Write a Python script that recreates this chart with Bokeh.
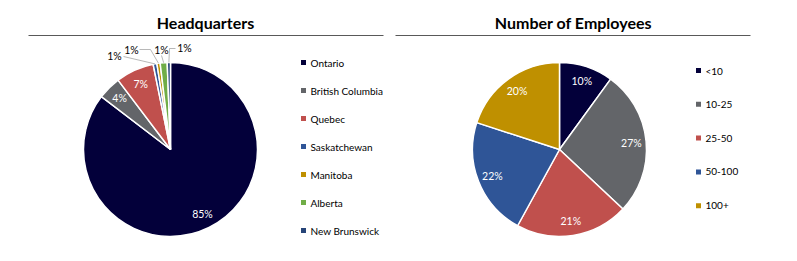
import math
from bokeh.plotting import figure
from bokeh.models import Range1d, ColumnDataSource
from bokeh.core.properties import value
from bokeh.embed import file_html
from bokeh.resources import INLINE

# ---- data ----
hq_title = "Headquarters"
hq_regions = ["Ontario", "British Columbia", "Quebec", "Saskatchewan", "Manitoba", "Alberta", "New Brunswick"]
hq_share = [85.4, 4.3, 7.1, 0.7, 0.6, 1.3, 0.6]
hq_colors = ["#03003A", "#636569", "#C0504D", "#2F5597", "#BF9000", "#70AD47", "#264478"]

emp_title = "Number of Employees"
emp_bands = ["<10", "10-25", "25-50", "50-100", "100+"]
emp_share = [10, 27, 21, 22, 20]
emp_colors = ["#03003A", "#636569", "#C0504D", "#2F5597", "#BF9000"]

W, H = 797, 261
FONT = "Lato"

p = figure(width=W, height=H, x_range=Range1d(0, W), y_range=Range1d(0, H),
           output_backend="svg", toolbar_location=None, min_border=0)
p.axis.visible = False
p.grid.visible = False
p.outline_line_color = None
p.background_fill_color = "white"
p.border_fill_color = "white"


def Y(y):
    return H - y


def pie(cx, cy, r, shares, colors):
    tot = float(sum(shares))
    starts, ends, mids = [], [], []
    c = 0.0
    for s in shares:
        a0 = math.pi / 2 - 2 * math.pi * (c + s) / tot
        a1 = math.pi / 2 - 2 * math.pi * c / tot
        starts.append(a0)
        ends.append(a1)
        mids.append((a0 + a1) / 2)
        c += s
    src = ColumnDataSource(dict(x=[cx] * len(shares), y=[Y(cy)] * len(shares),
                                s=starts, e=ends, color=colors))
    p.wedge(x="x", y="y", radius=r, start_angle="s", end_angle="e", source=src,
            fill_color="color", line_color="white", line_width=1.5)
    return mids, tot


def title(text, cx, x0, x1):
    p.text(x=[cx], y=[Y(22)], text=[text], text_font=value(FONT), text_font_style="bold",
           text_font_size="16px", text_align="center", text_baseline="middle", text_color="#000000")
    p.segment(x0=[x0], y0=[Y(35)], x1=[x1], y1=[Y(35)], line_color="#595959", line_width=1)


def legend(x, y0, dy, labels, colors):
    ys = [Y(y0 + i * dy) for i in range(len(labels))]
    p.scatter(x=[x] * len(labels), y=ys, marker="square", size=5, fill_color=colors, line_color=None)
    p.text(x=[x + 7] * len(labels), y=ys, text=labels, text_font=value(FONT), text_font_size="10px",
           text_align="left", text_baseline="middle", text_color="#000000")


# ---- left chart ----
title(hq_title, 205, 28, 383)
cx, cy, r = 170, 149, 87
mids, tot = pie(cx, cy, r, hq_share, hq_colors)
inside = [i for i, s in enumerate(hq_share) if s / tot >= 0.03]
p.text(x=[cx + 0.83 * r * math.cos(mids[i]) for i in inside],
       y=[Y(cy) + 0.83 * r * math.sin(mids[i]) for i in inside],
       text=["%d%%" % round(100 * hq_share[i] / tot) for i in inside],
       text_font=value(FONT), text_font_size="10.5px", text_align="center", text_baseline="middle",
       text_color="#FFFFFF")
# outside labels for the small slices (label positions are layout)
small = [i for i, s in enumerate(hq_share) if s / tot < 0.03]
lab_pos = [(114, 55), (131, 49), (161, 49), (184, 47)]
elbows = [(123, 56), (139, 49), (161, 55), (175, 48)]
for k, i in enumerate(small):
    ax = cx + r * math.cos(mids[i])
    ay = Y(cy) + r * math.sin(mids[i])
    lx, ly = lab_pos[k]
    ex, ey = elbows[k]
    if k == 1:
        p.line(x=[ex, ex + 11, ax], y=[Y(ey), Y(ey), ay], line_color="#A6A6A6", line_width=0.8)
    elif k == 3:
        p.line(x=[ex, ex - 6, ax], y=[Y(ey), Y(ey), ay], line_color="#A6A6A6", line_width=0.8)
    else:
        p.line(x=[ex, ax], y=[Y(ey), ay], line_color="#A6A6A6", line_width=0.8)
    p.text(x=[lx], y=[Y(ly)], text=["%d%%" % max(1, round(100 * hq_share[i] / tot))],
           text_font=value(FONT), text_font_size="10.5px", text_align="center", text_baseline="middle",
           text_color="#000000")
legend(303, 62, 28, hq_regions, hq_colors)

# ---- right chart ----
title(emp_title, 573, 395, 750)
cx2, cy2 = 559, 149
mids2, tot2 = pie(cx2, cy2, r, emp_share, emp_colors)
p.text(x=[cx2 + 0.83 * r * math.cos(m) for m in mids2],
       y=[Y(cy2) + 0.83 * r * math.sin(m) for m in mids2],
       text=["%d%%" % round(100 * s / tot2) for s in emp_share],
       text_font=value(FONT), text_font_size="10.5px", text_align="center", text_baseline="middle",
       text_color="#FFFFFF")
legend(698, 70, 33.8, emp_bands, emp_colors)

open("out.html", "w").write(file_html(p, INLINE))
